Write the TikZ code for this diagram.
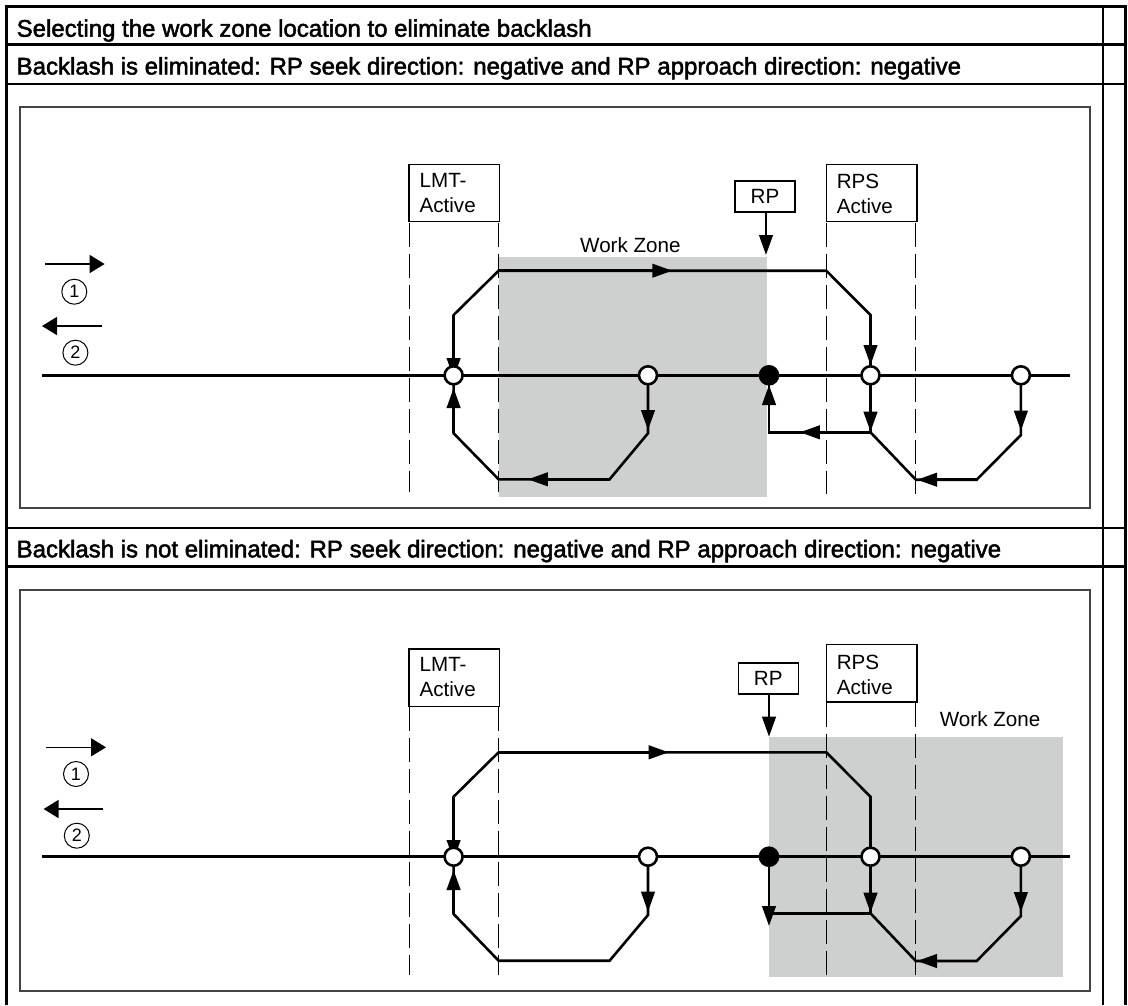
\documentclass[tikz,border=0pt]{standalone}
\usepackage{fontspec}
\setmainfont{Liberation Sans}
\newfontfamily\hdrfont[FakeBold=2]{Liberation Sans}
\usetikzlibrary{arrows.meta}
\pgfdeclarelayer{fg}
\pgfsetlayers{main,fg}
\definecolor{zone}{HTML}{CECFCF}
\definecolor{framec}{HTML}{444444}
\tikzset{
  rule/.style={line width=2.6pt,black},
  frameb/.style={line width=1.6pt,draw=framec},
  zonefill/.style={fill=zone,draw=none},
  limit/.style={line width=1.1pt,black,dash pattern=on 24pt off 7pt},
  flow/.style={line width=2.6pt,black},
  axisl/.style={line width=2.7pt,black},
  headed/.style={flow,-{Triangle[length=20pt,width=13.5pt]}},
  dirarrow/.style={line width=1.6pt,black,-{Triangle[length=15pt,width=18pt]}},
  lbl/.style={font=\fontsize{20.6}{25}\selectfont,inner sep=0pt},
  hdr/.style={font=\hdrfont\fontsize{24}{28}\selectfont,inner sep=0pt,anchor=base west},
  signal/.style={draw=black,line width=1.4pt,fill=white,inner xsep=10.5pt,inner ysep=0pt,align=left,text width=69.5pt,minimum height=57.4pt,font=\fontsize{20.6}{25}\selectfont},
  rpbox/.style={draw=black,line width=1.4pt,fill=white,inner sep=0pt,minimum width=60pt,minimum height=31pt,font=\fontsize{20.6}{25}\selectfont},
  openpt/.style={circle,draw=black,line width=2.6pt,fill=white,minimum size=18pt,inner sep=0pt},
  shutpt/.style={circle,draw=black,line width=2.6pt,fill=black,minimum size=18pt,inner sep=0pt},
  numc/.style={circle,draw=black,line width=1pt,minimum size=25pt,inner sep=0pt,font=\fontsize{18}{20}\selectfont},
}
\begin{document}
\begin{tikzpicture}[x=1pt,y=-1pt]
\useasboundingbox (0,0) rectangle (1128,1005);
\fill[white] (0,0) rectangle (1128,1005);
% table
\draw[rule] (6.5,1005) -- (6.5,6.5) -- (1125.5,6.5) -- (1125.5,1005);
\draw[rule] (1103,6.5) -- (1103,1005);
\draw[rule] (6.5,44.7) -- (1125.5,44.7);
\draw[rule] (6.5,84) -- (1125.5,84);
\draw[rule] (6.5,528) -- (1125.5,528);
\draw[rule] (6.5,566.7) -- (1125.5,566.7);
\node[hdr] (t1) at (16.5,36.7) {Selecting the work zone location to eliminate backlash};
\node[hdr] (t2) at (16.5,74.5) {Backlash is eliminated: RP seek direction: negative and RP approach direction: negative};
\node[hdr] (t3) at (16.5,557.3) {Backlash is not eliminated: RP seek direction: negative and RP approach direction: negative};
% ---------- upper diagram
\draw[frameb] (20,106.7) rectangle (1089.7,508);
\fill[zonefill] (498.6,257.3) rectangle (767.2,497.3);
\node[signal] (al) at (454.4,193) {LMT-\\Active};
\node[signal] (ar) at (871.6,193) {\rule{0pt}{17pt}RPS\\Active};
\node[rpbox] (arp) at (765,196.3) {RP};
\node[lbl,anchor=base west] (awz) at (580,252.7) {Work Zone};
\coordinate (adla) at (409.3,222.5); \coordinate (adlb) at (409.3,491.7);
\coordinate (adma) at (498.6,222.5); \coordinate (admb) at (498.6,491.7);
\coordinate (adna) at (826.3,222.5); \coordinate (adnb) at (826.3,494);
\coordinate (adoa) at (915.8,222.5); \coordinate (adob) at (915.8,494);
\draw[limit] (adla) -- (adlb);
\draw[limit] (adma) -- (admb);
\draw[limit] (adna) -- (adnb);
\draw[limit] (adoa) -- (adob);
\begin{pgfonlayer}{fg}
\node[openpt] (ac1) at (453.6,375.3) {};
\node[openpt] (ac2) at (648,375.3) {};
\node[shutpt] (ac3) at (769,375.3) {};
\node[openpt] (ac4) at (870.5,375.3) {};
\node[openpt] (ac5) at (1020.9,375.3) {};
\end{pgfonlayer}
\coordinate (axl) at (42,375.3); \coordinate (axr) at (1070,375.3);
\draw[axisl] (axl) -- (axr);
\coordinate (aa1) at (45,264); \coordinate (aa2) at (104.6,264);
\coordinate (ab1) at (101.8,326); \coordinate (ab2) at (42,326);
\draw[dirarrow] (aa1) -- (aa2);
\draw[dirarrow] (ab1) -- (ab2);
\node[numc] (an1) at (74.3,291.7) {1};
\node[numc] (an2) at (75.4,352.7) {2};
\coordinate (arpt) at (766,255);
\draw[headed] (arp.south -| arpt) -- (arpt);
% upper path
\coordinate (ap1) at (453.6,315); \coordinate (ap2) at (498.6,270.7);
\coordinate (ap3) at (826.3,270.7); \coordinate (ap4) at (870.5,315);
\draw[flow] (ac1.center) -- (ap1) -- (ap2) -- (ap3) -- (ap4) -- (ac4.center);
\coordinate (ah1) at (672.3,270.7); \draw[headed] (ap2) -- (ah1);
\coordinate (ah2) at (453.6,378); \draw[headed] (ap1) -- (ah2);
\coordinate (ah3) at (870.5,365); \draw[headed] (ap4) -- (ah3);
% lower left
\coordinate (aq1) at (453.6,433.3); \coordinate (aq2) at (498.6,479.3);
\coordinate (aq3) at (609.6,479.3); \coordinate (aq4) at (648,433.3);
\draw[flow] (ac1.center) -- (aq1) -- (aq2) -- (aq3) -- (aq4) -- (ac2.center);
\coordinate (ah4) at (453.6,388); \draw[headed] (aq1) -- (ah4);
\coordinate (ah5) at (527.9,479.3); \draw[headed] (aq3) -- (ah5);
\coordinate (ah6) at (648,430); \draw[headed] (ac2.center) -- (ah6);
% lower right
\coordinate (ar1) at (769,432.3); \coordinate (ar2) at (870.5,432.3);
\coordinate (ar3) at (915.8,479.7); \coordinate (ar4) at (976.7,479.7);
\coordinate (ar5) at (1020.9,435);
\draw[flow] (ac3.center) -- (ar1) -- (ar2) -- (ac4.center);
\draw[flow] (ar2) -- (ar3) -- (ar4) -- (ar5) -- (ac5.center);
\coordinate (ah7) at (769,385); \draw[headed] (ar1) -- (ah7);
\coordinate (ah8) at (799.9,432.3); \draw[headed] (ar2) -- (ah8);
\coordinate (ah9) at (870.5,431.7); \draw[headed] (ac4.center) -- (ah9);
\coordinate (ah10) at (917,479.7); \draw[headed] (ar4) -- (ah10);
\coordinate (ah11) at (1020.9,430.7); \draw[headed] (ac5.center) -- (ah11);
% ---------- lower diagram
\draw[frameb] (20,590) rectangle (1089.7,990.7);
\fill[zonefill] (769,737.3) rectangle (1063,976.7);
\node[signal] (bl) at (454.4,677.5) {LMT-\\Active};
\node[signal] (br) at (871.6,673.3) {\rule{0pt}{17pt}RPS\\Active};
\node[rpbox] (brp) at (768.2,678.3) {RP};
\node[lbl,anchor=base west] (bwz) at (939.7,726.7) {Work Zone};
\coordinate (bdla) at (409.3,706.7); \coordinate (bdlb) at (409.3,975);
\coordinate (bdma) at (498.6,706.7); \coordinate (bdmb) at (498.6,975);
\coordinate (bdna) at (826.3,702.7); \coordinate (bdnb) at (826.3,975);
\coordinate (bdoa) at (915.8,702.7); \coordinate (bdob) at (915.8,975);
\draw[limit] (bdla) -- (bdlb);
\draw[limit] (bdma) -- (bdmb);
\draw[limit] (bdna) -- (bdnb);
\draw[limit] (bdoa) -- (bdob);
\begin{pgfonlayer}{fg}
\node[openpt] (bc1) at (453.6,856.7) {};
\node[openpt] (bc2) at (648,856.7) {};
\node[shutpt] (bc3) at (769,856.7) {};
\node[openpt] (bc4) at (870.5,856.7) {};
\node[openpt] (bc5) at (1020.9,856.7) {};
\end{pgfonlayer}
\coordinate (bxl) at (42,856.7); \coordinate (bxr) at (1070,856.7);
\draw[axisl] (bxl) -- (bxr);
\coordinate (ba1) at (46.4,747.3); \coordinate (ba2) at (106,747.3);
\coordinate (bb1) at (103,809); \coordinate (bb2) at (43.6,809);
\draw[dirarrow] (ba1) -- (ba2);
\draw[dirarrow] (bb1) -- (bb2);
\node[numc] (bn1) at (76,774) {1};
\node[numc] (bn2) at (76.8,835.7) {2};
\coordinate (brpt) at (769,736.7);
\draw[headed] (brp.south -| brpt) -- (brpt);
% upper path
\coordinate (bp1) at (453.6,796.7); \coordinate (bp2) at (498.6,752.3);
\coordinate (bp3) at (826.3,752.3); \coordinate (bp4) at (870.5,796.7);
\draw[flow] (bc1.center) -- (bp1) -- (bp2) -- (bp3) -- (bp4) -- (bc4.center);
\coordinate (bh1) at (668.7,752.3); \draw[headed] (bp2) -- (bh1);
\coordinate (bh2) at (453.6,860); \draw[headed] (bp1) -- (bh2);
% lower left
\coordinate (bq1) at (453.6,914); \coordinate (bq2) at (498.6,960.7);
\coordinate (bq3) at (609.6,960.7); \coordinate (bq4) at (648,915);
\draw[flow] (bc1.center) -- (bq1) -- (bq2) -- (bq3) -- (bq4) -- (bc2.center);
\coordinate (bh4) at (453.6,870); \draw[headed] (bq1) -- (bh4);
\coordinate (bh6) at (648,911.7); \draw[headed] (bc2.center) -- (bh6);
% lower right
\coordinate (br1) at (769,913.3); \coordinate (br2) at (870.5,913.3);
\coordinate (br3) at (915.8,961); \coordinate (br4) at (976.7,961);
\coordinate (br5) at (1020.9,916);
\coordinate (bh7) at (769,926); \draw[headed] (bc3.center) -- (bh7);
\draw[flow] (br1) -- (br2) -- (bc4.center);
\draw[flow] (br2) -- (br3) -- (br4) -- (br5) -- (bc5.center);
\coordinate (bh9) at (870.5,912.7); \draw[headed] (bc4.center) -- (bh9);
\coordinate (bh10) at (917,961); \draw[headed] (br4) -- (bh10);
\coordinate (bh11) at (1020.9,912); \draw[headed] (bc5.center) -- (bh11);
\end{tikzpicture}
\end{document}
